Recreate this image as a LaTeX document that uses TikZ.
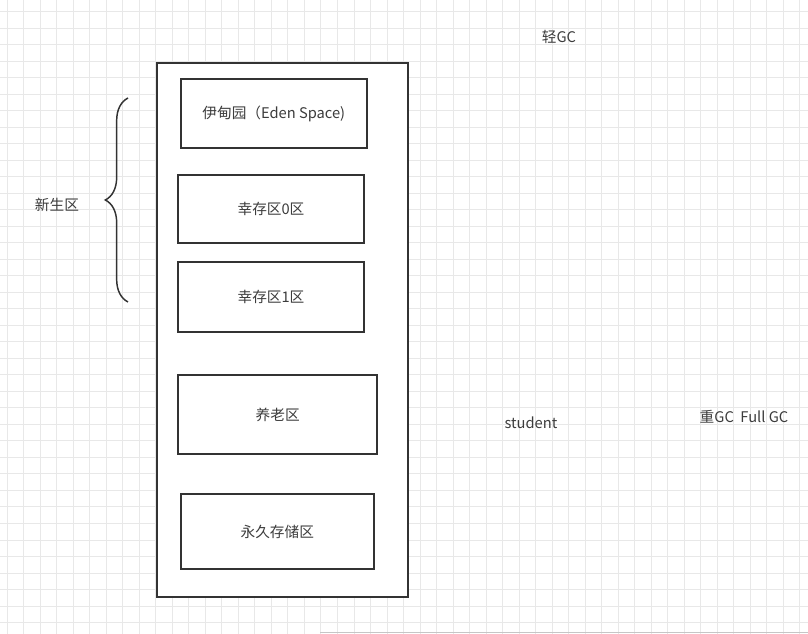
\documentclass[tikz,border=0pt]{standalone}
\usepackage{fontspec}
\setmainfont{Noto Sans CJK SC}
\usetikzlibrary{decorations.pathreplacing}
\definecolor{gridgray}{HTML}{E8E8E8}
\definecolor{inkgray}{HTML}{333333}
\definecolor{textgray}{HTML}{3C3C3C}
\tikzset{
	region/.style 2 args={
			draw=inkgray, line width=1.5pt, fill=white, inner sep=0pt,
			minimum width=#1*0.75pt, minimum height=#2*0.75pt,
			text=textgray, font=\fontsize{11pt}{13pt}\selectfont
		},
	note/.style={text=textgray, inner sep=0pt, font=\fontsize{11pt}{13pt}\selectfont},
	gridline/.style={draw=gridgray, line width=0.75pt}
}

\begin{document}
\begin{tikzpicture}[x=0.75pt,y=-0.75pt]
			\useasboundingbox (0,0) rectangle (808,634);
			\fill[white] (0,0) rectangle (808,634);
			\foreach \i in {0,...,48} \draw[gridline] ({7.3+16.51*\i},0) -- ++(0,634);
			\foreach \j in {0,...,37} \draw[gridline] (0,{11.7+16.51*\j}) -- ++(808,0);
			\draw[gray!45, line width=0.75pt] (320,632.8) -- (808,632.8);
			\node[region={251}{533.4}] (heap) at (282,330) {};
			\node[region={185.7}{69}] (eden) at (273.8,113.8) {伊甸园（Eden Space)};
			\node[region={185.4}{68.3}] (surv0) at (271,209.2) {幸存区0区};
			\node[region={185.4}{69.4}] (surv1) at (271,297) {幸存区1区};
			\node[region={198.7}{79.3}] (old) at (277.7,414.7) {养老区};
			\node[region={192.7}{74.7}] (perm) at (277.3,531.7) {永久存储区};
			\coordinate (bracetop) at (128,98);
			\coordinate (bracebot) at (128,302);
			\draw[inkgray, line width=1.1pt, decorate, decoration={brace, amplitude=17pt}] (bracebot) -- (bracetop);
			\node[note] (young) at (57,205) {新生区};
			\node[note] (minorgc) at (559,36.7) {轻GC};
			\node[note] (student) at (531,422.3) {student};
			\node[note] (fullgc) at (744,416.7) {重GC\ \ Full GC};
		\end{tikzpicture}
\end{document}
